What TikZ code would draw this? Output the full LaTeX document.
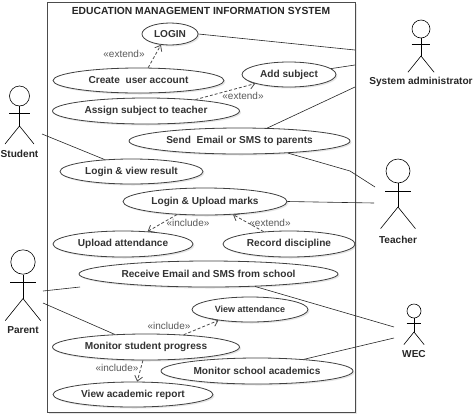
\documentclass[tikz,border=0pt]{standalone}
\usepackage{fontspec}
\setmainfont{Liberation Sans}
\usetikzlibrary{shapes.geometric, arrows.meta, shadows}

\begin{document}
\begin{tikzpicture}[x=1pt, y=-1pt,
        shade/.style={drop shadow={opacity=0.2, shadow xshift=1.5pt, shadow yshift=-1.5pt}},
        usecase/.style={draw, ellipse, inner sep=0pt, fill=white, shade, thick, draw=black!75,
                        font=\fontsize{10.1}{12}\selectfont\bfseries, text=black!80},
        sysbox/.style={draw, thick, draw=black!70, fill=white, shade, minimum width=308pt, minimum height=410pt},
        actorname/.style={font=\fontsize{10.1}{12}\selectfont\bfseries, text=black!85},
        stereo/.style={font=\fontsize{10}{11}\selectfont, text=black!65, inner sep=0.5pt},
        assoc/.style={semithick, draw=black!85},
        dep/.style={-{Straight Barb[length=5pt, width=8pt]}, densely dashed, thick, draw=black!70},
        actor/.pic={
            \node[draw, circle, minimum size=20pt, inner sep=0pt, transform shape, semithick] (-head) at (0,0) {};
            \draw[semithick] (-head.south) -- (0,30);
            \draw[semithick] (-10.5,17) -- (10.5,17);
            \draw[semithick] (-14.5,48) -- (0,30) -- (14.5,48);
        }
    ]
        \useasboundingbox (0,0) rectangle (476,416);

        % system boundary
        \node[sysbox] (system) at (201,207) {};
        \node[font=\fontsize{10.3}{12}\selectfont\bfseries, text=black!85] (title) at (201,11) {EDUCATION MANAGEMENT INFORMATION SYSTEM};

        % use cases
        \node[usecase, minimum width=56pt, minimum height=22pt] (login) at (170,34) {LOGIN};
        \node[usecase, minimum width=171pt, minimum height=25pt] (create) at (138.5,80.5) {Create\ \ user account};
        \node[usecase, minimum width=94pt, minimum height=25pt] (addsubject) at (289,74.5) {Add subject};
        \node[usecase, minimum width=187pt, minimum height=26pt] (assign) at (146,111) {Assign subject to teacher};
        \node[usecase, minimum width=221pt, minimum height=26pt] (send) at (239.5,141) {Send\ \ Email or SMS to parents};
        \node[usecase, minimum width=143pt, minimum height=25pt] (viewresult) at (131.5,171.5) {Login \& view result};
        \node[usecase, minimum width=164pt, minimum height=27pt] (marks) at (205,201.5) {Login \& Upload marks};
        \node[usecase, minimum width=140pt, minimum height=26pt] (attendance) at (123,244) {Upload attendance};
        \node[usecase, minimum width=132pt, minimum height=26pt] (discipline) at (289,244) {Record discipline};
        \node[usecase, minimum width=259pt, minimum height=26pt] (receive) at (208.5,274) {Receive Email and SMS from school};
        \node[usecase, minimum width=116pt, minimum height=25pt, font=\fontsize{9}{11}\selectfont\bfseries] (viewatt) at (250,309.5) {View attendance};
        \node[usecase, minimum width=192pt, minimum height=26pt] (academics) at (257,371) {Monitor school academics};
        \node[usecase, minimum width=187pt, minimum height=26pt] (progress) at (146,347) {Monitor student progress};
        \node[usecase, minimum width=160pt, minimum height=25pt] (report) at (133,394.5) {View academic report};

        % actors
        \pic at (19.5,96) {actor};
        \node[actorname] (studentname) at (19.5,154) {Student};
        \pic[scale=0.9] at (421,29) {actor};
        \node[actorname] (adminname) at (421,82) {System administrator};
        \pic[scale=1.2] at (398,171) {actor};
        \node[actorname] (teachername) at (398,240) {Teacher};
        \pic[scale=1.22] at (23,262) {actor};
        \node[actorname] (parentname) at (23,330) {Parent};
        \pic[scale=0.7] at (414,311) {actor};
        \node[actorname] (wecname) at (414,354) {WEC};

        % free ends of the associations
        \coordinate (adminA) at (355,50);
        \coordinate (adminB) at (355,65);
        \coordinate (adminC) at (355,87);
        \coordinate (bend) at (350,171);
        \coordinate (teacherA) at (375,187);
        \coordinate (teacherB) at (374,203);
        \coordinate (studentend) at (42,134);
        \coordinate (parentA) at (43,291);
        \coordinate (receiveend) at (80,287);
        \coordinate (parentB) at (43,303);
        \coordinate (wecA) at (394,327);
        \coordinate (wecB) at (394,338);

        \draw[assoc] (login.east) -- (adminA);
        \draw[assoc] (addsubject.8) -- (adminB);
        \draw[assoc] (send.25) -- (adminC);
        \draw[assoc] (send.-14) -- (bend) -- (teacherA);
        \draw[assoc] (marks.east) -- (teacherB);
        \draw[assoc] (studentend) -- (viewresult.156);
        \draw[assoc] (parentA) -- (receiveend);
        \draw[assoc] (parentB) -- (progress.158);
        \draw[assoc] (receive.-15) -- (wecA);
        \draw[assoc] (academics.14) -- (wecB);

        % dependencies
        \draw[dep] (create.53) -- (login.230);
        \draw[dep] (assign.13) -- (addsubject.195);
        \draw[dep] (marks.205) -- (attendance.27);
        \draw[dep] (discipline.154) -- (marks.-25);
        \draw[dep] (progress.18) -- (viewatt.199);
        \draw[dep] (progress.257) -- (report.72);

        \node[stereo] (extendA) at (124,54) {«extend»};
        \node[stereo] (extendB) at (243,96) {«extend»};
        \node[stereo] (includeA) at (188,223) {«include»};
        \node[stereo] (extendC) at (270,223) {«extend»};
        \node[stereo] (includeB) at (169,326) {«include»};
        \node[stereo] (includeC) at (117,368) {«include»};
    \end{tikzpicture}
\end{document}
